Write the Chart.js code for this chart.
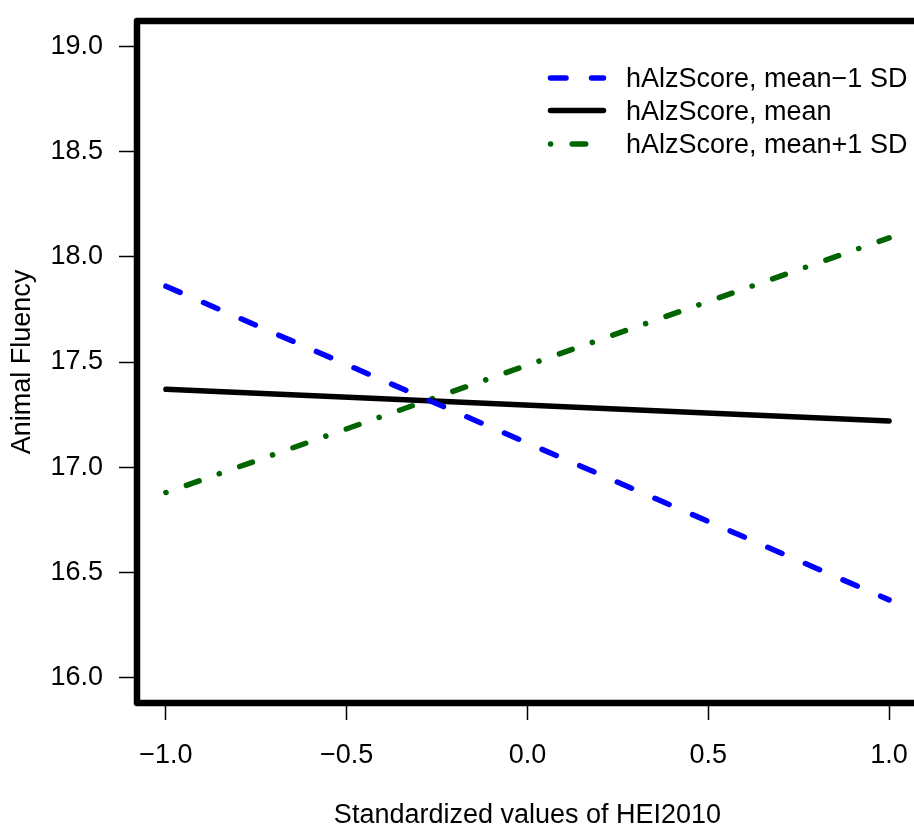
<!DOCTYPE html>
<html>
<head>
<meta charset="utf-8">
<script src="https://cdn.jsdelivr.net/npm/chart.js@4.4.1/dist/chart.umd.min.js"></script>
<style>
  html, body { margin: 0; padding: 0; background: #ffffff; overflow: hidden; }
  #wrap { position: absolute; left: 0; top: 0; width: 960px; height: 829px; }
</style>
</head>
<body>
<div id="wrap"><canvas id="c" width="960" height="829" style="width:960px;height:829px"></canvas></div>
<script>
// ---- data ----
const xValues = [-1.0, 1.0];
const seriesLabels = ["hAlzScore, mean\u22121 SD", "hAlzScore, mean", "hAlzScore, mean+1 SD"];
const valsMinus1SD = [17.86, 16.37];
const valsMean = [17.37, 17.22];
const valsPlus1SD = [16.88, 18.09];
const xTicks = [-1.0, -0.5, 0.0, 0.5, 1.0];
const yTicks = [16.0, 16.5, 17.0, 17.5, 18.0, 18.5, 19.0];
const xTitle = "Standardized values of HEI2010";
const yTitle = "Animal Fluency";

const FONT = "'Liberation Sans', Arial, Helvetica, sans-serif";
const FS = 27;
const fmt = v => (Math.round(v * 10) / 10).toFixed(1).replace('-', '\u2212');
const pts = ys => xValues.map((x, i) => ({ x: x, y: ys[i] }));

const boxPlugin = {
  id: 'rbox',
  afterDraw(chart) {
    const { ctx, chartArea: a } = chart;
    ctx.save();
    ctx.strokeStyle = '#000';
    ctx.lineWidth = 6.5;
    ctx.lineJoin = 'round';
    ctx.strokeRect(a.left, a.top, a.right - a.left, a.bottom - a.top);
    ctx.restore();
  }
};

const legendPlugin = {
  id: 'rlegend',
  afterDraw(chart) {
    const ctx = chart.ctx;
    const x0 = 550.5, x1 = 603.5, tx = 626;
    const rowY = [78, 110.5, 144];
    ctx.save();
    chart.data.datasets.forEach((ds, i) => {
      const y = rowY[i];
      ctx.beginPath();
      ctx.strokeStyle = ds.borderColor;
      ctx.lineWidth = ds.borderWidth;
      ctx.lineCap = 'round';
      ctx.setLineDash(ds.borderDash || []);
      ctx.moveTo(x0, y);
      ctx.lineTo(x1, y);
      ctx.stroke();
      ctx.setLineDash([]);
      ctx.fillStyle = '#000';
      ctx.font = FS + 'px ' + FONT;
      ctx.textBaseline = 'alphabetic';
      ctx.textAlign = 'left';
      ctx.fillText(ds.label, tx, y + 9);
    });
    ctx.restore();
  }
};

new Chart(document.getElementById('c'), {
  type: 'line',
  data: {
    datasets: [
      { label: seriesLabels[0], data: pts(valsMinus1SD), borderColor: '#0000ff', borderWidth: 5.5, borderDash: [15.5, 25.5], borderCapStyle: 'round', pointRadius: 0, fill: false },
      { label: seriesLabels[1], data: pts(valsMean), borderColor: '#000000', borderWidth: 5.5, borderDash: [], borderCapStyle: 'round', pointRadius: 0, fill: false },
      { label: seriesLabels[2], data: pts(valsPlus1SD), borderColor: '#006400', borderWidth: 5.5, borderDash: [0.1, 21.6, 13.5, 21.3], borderCapStyle: 'round', pointRadius: 0, fill: false }
    ]
  },
  options: {
    responsive: false,
    animation: false,
    devicePixelRatio: 1,
    layout: { padding: { top: 21, right: 42, left: 0, bottom: 0 } },
    plugins: { legend: { display: false }, tooltip: { enabled: false } },
    scales: {
      x: {
        type: 'linear',
        min: -1.08, max: 1.08,
        afterBuildTicks: s => { s.ticks = xTicks.map(v => ({ value: v })); },
        afterFit: s => { s.height = 126; s.paddingLeft = 0; s.paddingRight = 0; },
        border: { display: false },
        grid: { drawOnChartArea: false, drawTicks: true, tickLength: 17, tickColor: '#000', tickWidth: 1.5 },
        ticks: { color: '#000', font: { family: FONT, size: FS }, padding: 19, maxRotation: 0, autoSkip: false, callback: v => fmt(v) },
        title: { display: true, text: xTitle, color: '#000', font: { family: FONT, size: FS, lineHeight: 1 }, padding: { top: 0, bottom: 0 } }
      },
      y: {
        type: 'linear',
        min: 15.88, max: 19.12,
        afterBuildTicks: s => { s.ticks = yTicks.map(v => ({ value: v })); },
        afterFit: s => { s.width = 137; s.paddingTop = 0; s.paddingBottom = 0; },
        border: { display: false },
        grid: { drawOnChartArea: false, drawTicks: true, tickLength: 18, tickColor: '#000', tickWidth: 1.5 },
        ticks: { color: '#000', font: { family: FONT, size: FS }, padding: 16, autoSkip: false, callback: v => fmt(v) },
        title: { display: true, text: yTitle, color: '#000', font: { family: FONT, size: FS, lineHeight: 1 }, padding: { top: 9, bottom: 0 } }
      }
    }
  },
  plugins: [boxPlugin, legendPlugin]
});
</script>
</body>
</html>
